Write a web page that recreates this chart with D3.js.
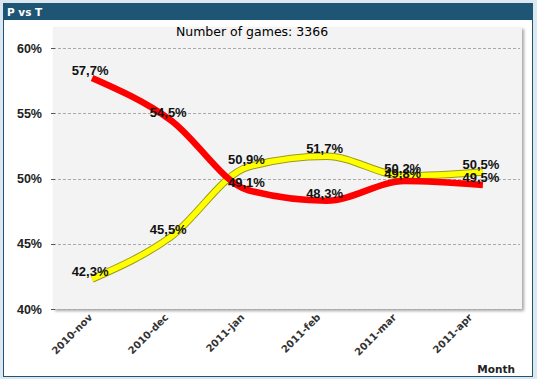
<!DOCTYPE html>
<html><head><meta charset="utf-8">
<script src="https://cdn.jsdelivr.net/npm/d3@7"></script>
<style>
html,body{margin:0;padding:0;background:#dce7ef;}
svg{display:block;}
</style></head>
<body>
<svg id="chart" width="537" height="379"></svg>
<script>
const categories = ["2010-nov","2010-dec","2011-jan","2011-feb","2011-mar","2011-apr"];
const seriesP = [57.7, 54.5, 49.1, 48.3, 49.8, 49.5];
const seriesT = [42.3, 45.5, 50.9, 51.7, 50.2, 50.5];
const yTicks = [40, 45, 50, 55, 60];
const chartTitle = "Number of games: 3366";
const panelTitle = "P vs T";
const xAxisTitle = "Month";

const svg = d3.select("#chart");
const fmt = v => d3.format(".1f")(v).replace(".", ",") + "%";

// frame
svg.append("rect").attr("x",3.5).attr("y",3.5).attr("width",529).attr("height",373)
  .attr("fill","#ffffff").attr("stroke","#1f5574").attr("stroke-width",1);
svg.append("rect").attr("x",3).attr("y",3).attr("width",530).attr("height",17).attr("fill","#1f5574");
svg.append("text").attr("x",7).attr("y",16).text(panelTitle)
  .attr("fill","#fff").attr("font-family","DejaVu Sans").attr("font-weight","bold").attr("font-size",10.5);

const plot = {x0:53, x1:522, y0:27, y1:309};
const x = d3.scalePoint().domain(categories).range([plot.x0, plot.x1]).padding(0.5);
const xLab = d3.scalePoint().domain(categories).range([92, 472]);
const y = d3.scaleLinear().domain([40, 60]).range([309, 48]);

// shadow
const defs = svg.append("defs");
const f = defs.append("filter").attr("id","sh").attr("x","-5%").attr("y","-5%").attr("width","115%").attr("height","115%");
f.append("feDropShadow").attr("dx",2).attr("dy",2).attr("stdDeviation",1.5).attr("flood-color","#000").attr("flood-opacity",0.35);
svg.append("rect").attr("x",plot.x0).attr("y",plot.y0).attr("width",plot.x1-plot.x0).attr("height",plot.y1-plot.y0)
  .attr("fill","#f3f3f3").attr("filter","url(#sh)");

// grid + ticks
const g = svg.append("g");
yTicks.forEach(t => {
  g.append("line").attr("x1",plot.x0).attr("x2",plot.x1-2).attr("y1",Math.round(y(t))+0.5).attr("y2",Math.round(y(t))+0.5)
    .attr("stroke","#aaaaaa").attr("stroke-dasharray","3,2");
  g.append("line").attr("x1",51).attr("x2",55).attr("y1",Math.round(y(t))+0.5).attr("y2",Math.round(y(t))+0.5)
    .attr("stroke","#555");
  g.append("text").attr("x",42).attr("y",y(t)+4.5).attr("text-anchor","end").text(t+"%")
    .attr("font-family","Liberation Sans, Arial").attr("font-weight","bold").attr("font-size",12.5).attr("fill","#222");
});

// x labels
categories.forEach(c => {
  g.append("text").attr("transform",`translate(${xLab(c)+1},${318}) rotate(-45)`)
    .attr("text-anchor","end").text(c)
    .attr("font-family","DejaVu Sans").attr("font-weight","bold").attr("font-size",10).attr("fill","#333");
});
svg.append("text").attr("x",515).attr("y",373).attr("text-anchor","end").text(xAxisTitle)
  .attr("font-family","DejaVu Sans").attr("font-weight","bold").attr("font-size",10.5).attr("fill","#222");

// title
svg.append("text").attr("x",252).attr("y",36).attr("text-anchor","middle").text(chartTitle)
  .attr("font-family","DejaVu Sans").attr("font-size",12.5).attr("fill","#000");

// lines
const line = d3.line().x((d,i)=>x(categories[i])).y(d=>y(d)).curve(d3.curveMonotoneX);
svg.append("path").attr("d",line(seriesT)).attr("fill","none").attr("stroke","#9a9a1a").attr("stroke-width",7.5).attr("stroke-linecap","butt");
svg.append("path").attr("d",line(seriesT)).attr("fill","none").attr("stroke","#ffff00").attr("stroke-width",5.5).attr("stroke-linecap","butt");
svg.append("path").attr("d",line(seriesP)).attr("fill","none").attr("stroke","#ff0000").attr("stroke-width",6.5).attr("stroke-linecap","butt");

// labels
[seriesT, seriesP].forEach(s => {
  s.forEach((v,i) => {
    svg.append("text").attr("x",x(categories[i])-2).attr("y",y(v)-3).attr("text-anchor","middle").text(fmt(v))
      .attr("font-family","Liberation Sans, Arial").attr("font-weight","bold").attr("font-size",13).attr("fill","#111");
  });
});
</script>
</body></html>
